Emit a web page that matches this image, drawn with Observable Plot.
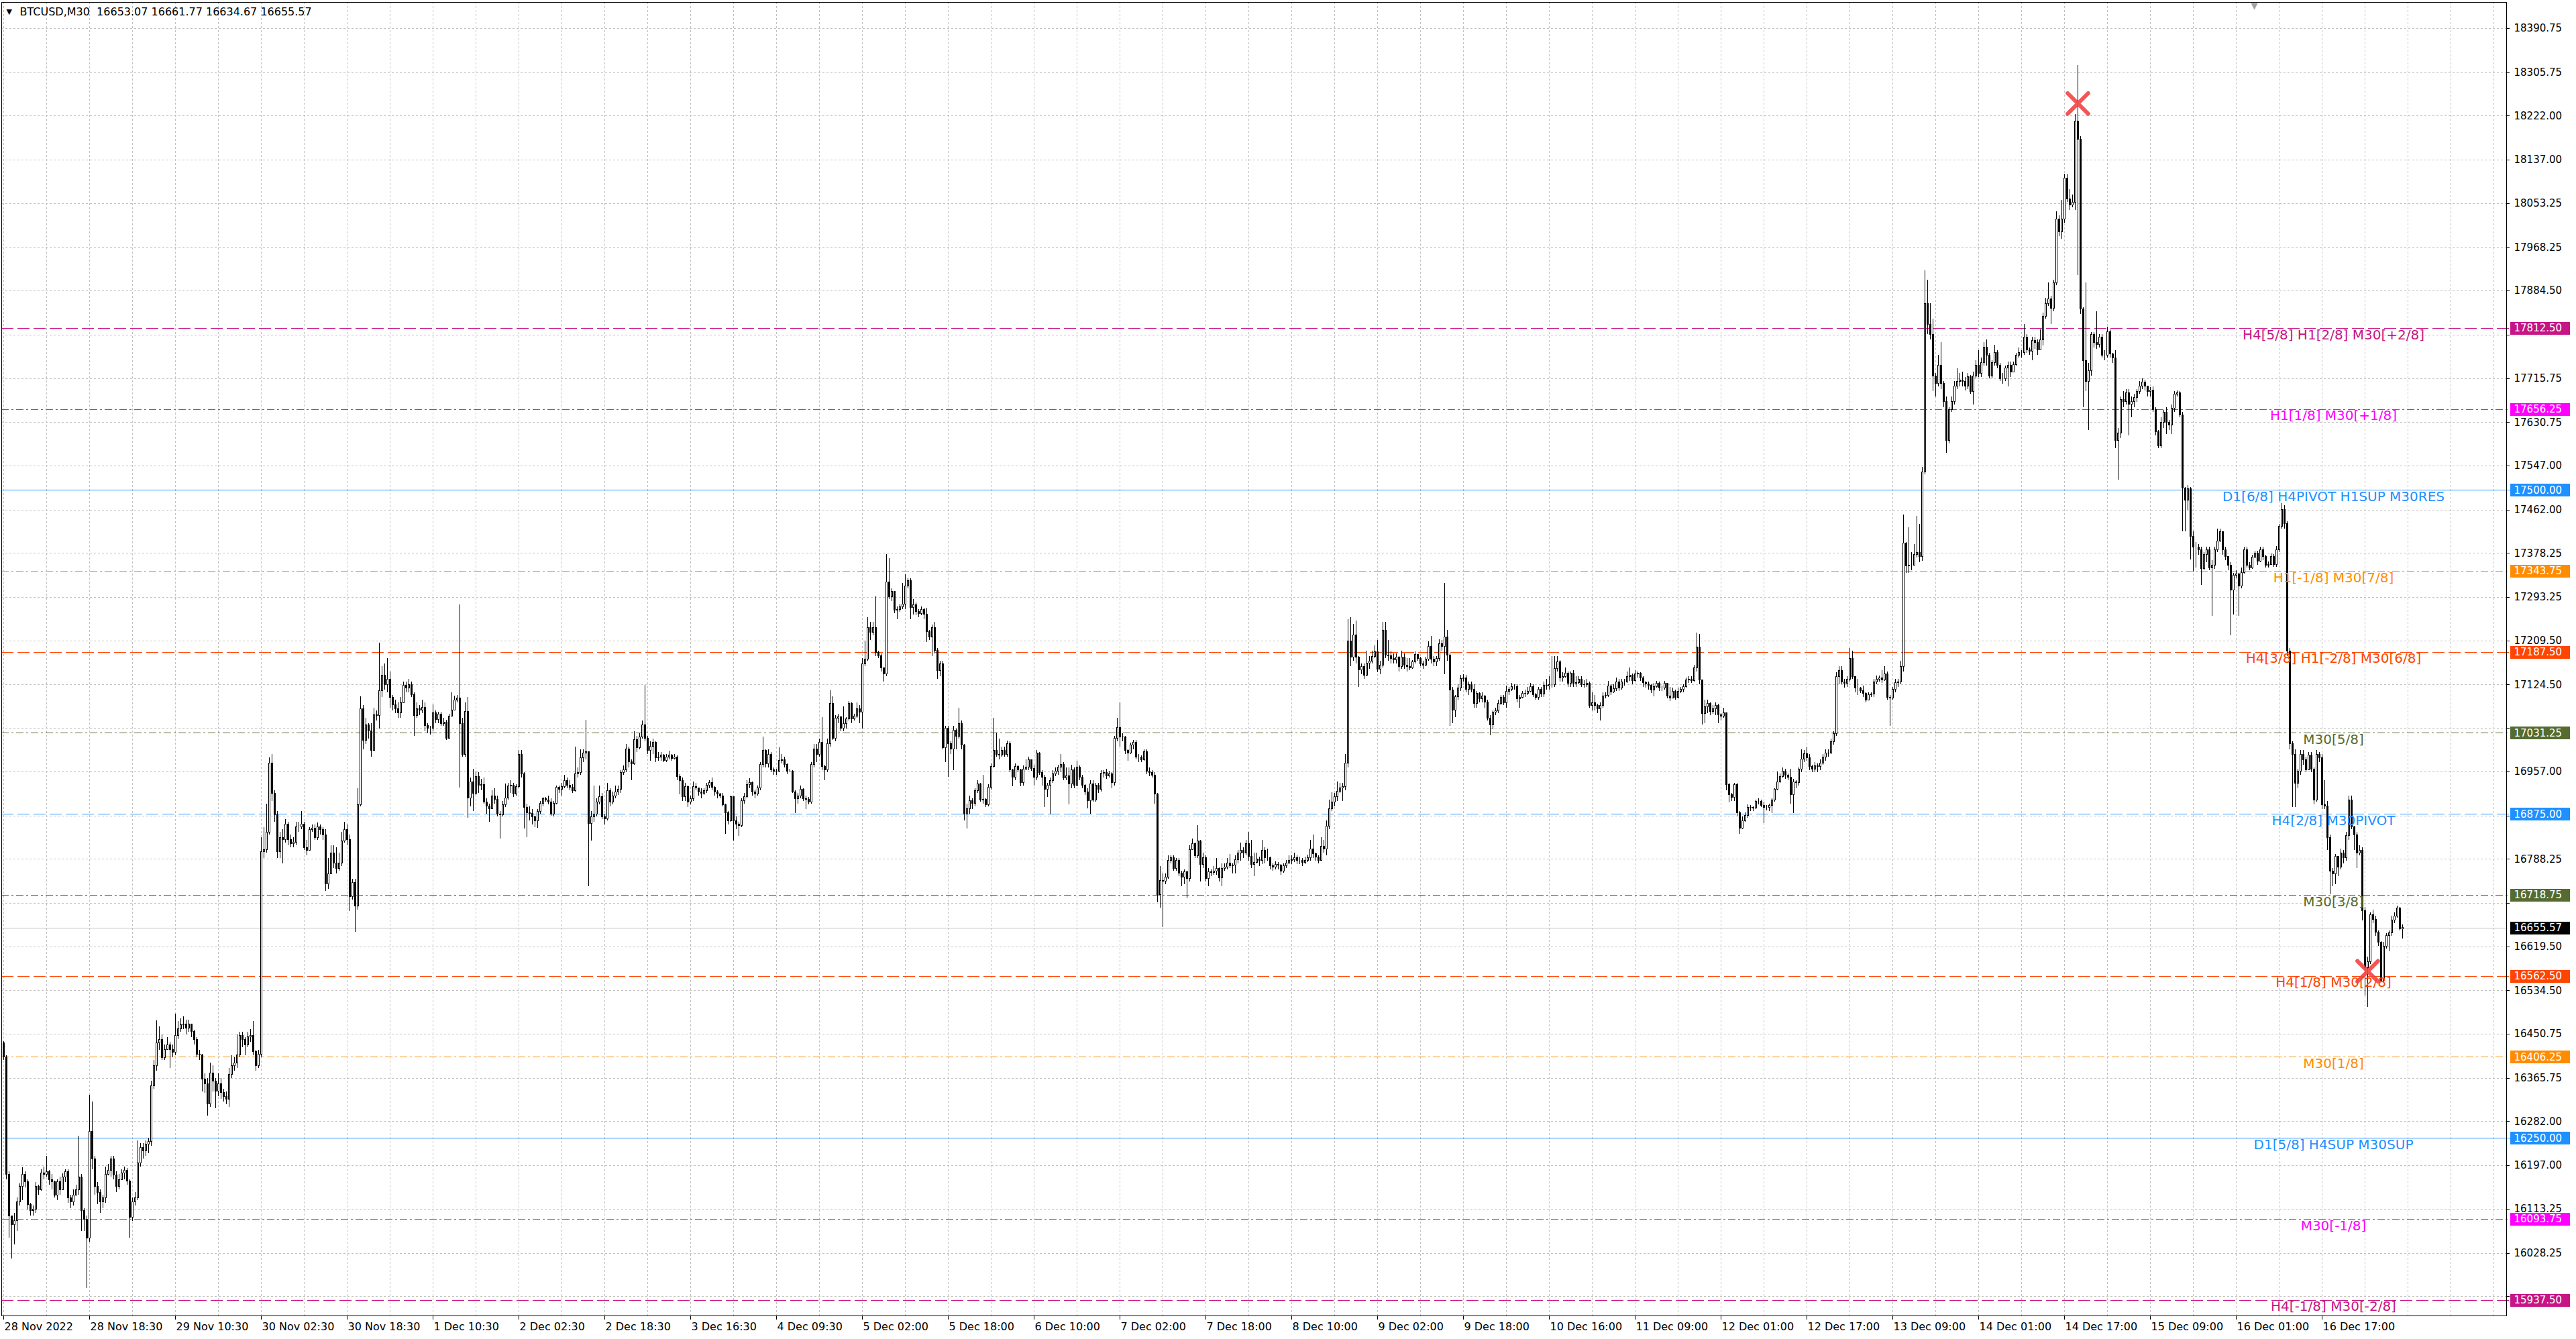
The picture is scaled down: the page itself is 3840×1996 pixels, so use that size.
<!DOCTYPE html>
<html>
<head>
<meta charset="utf-8">
<script src="https://cdn.jsdelivr.net/npm/d3@7"></script>
<script src="https://cdn.jsdelivr.net/npm/@observablehq/plot@0.6"></script>
<style>
  html, body { margin: 0; padding: 0; background: #ffffff; }
  #chart svg { display: block; }
</style>
</head>
<body>
<div id="chart"></div>
<script>
// ---------------- DATA (BTCUSD, M30) ----------------
const symbolName = "BTCUSD,M30";
const firstOpen = 16434;
const closes = [
16406,16180,16100,16083,16090,16127,16157,16180,16165,16122,16110,16112,16157,16150,16182,16180,
16185,16170,16165,16140,16165,16150,16175,16185,16135,16127,16140,16150,16175,16110,16093,16057,
16262,16210,16157,16145,16127,16135,16180,16188,16210,16178,16157,16170,16182,16188,16167,16097,
16127,16135,16202,16232,16225,16238,16243,16350,16390,16434,16440,16405,16420,16430,16420,16415,
16447,16460,16468,16470,16462,16470,16455,16440,16412,16410,16363,16355,16315,16375,16360,16340,
16355,16337,16330,16325,16372,16390,16395,16410,16447,16440,16430,16445,16447,16417,16390,16412,
16802,16806,16840,16973,16915,16873,16802,16830,16825,16855,16825,16818,16820,16850,16850,16855,
16810,16805,16845,16848,16830,16850,16845,16835,16740,16760,16800,16780,16770,16780,16823,16845,
16825,16715,16743,16697,16893,17078,17017,17047,17035,16998,17066,17065,17113,17143,17125,17135,
17100,17085,17078,17070,17090,17123,17118,17125,17105,17065,17078,17075,17080,17045,17040,17040,
17070,17057,17068,17050,17052,17021,17063,17075,17095,17098,17050,16990,17073,16906,16937,16915,
16947,16930,16932,16898,16890,16885,16910,16903,16875,16873,16893,16906,16929,16930,16913,16928,
16990,16952,16888,16877,16876,16870,16862,16880,16895,16904,16902,16898,16875,16896,16926,16922,
16928,16940,16930,16926,16920,16952,16955,16983,16993,16995,16857,16870,16875,16898,16908,16870,
16866,16920,16898,16910,16918,16922,16955,16960,17000,16975,16972,17018,17003,17024,17047,17021,
16998,17005,17013,16983,16985,16988,16978,16985,16988,16982,16985,16947,16940,16908,16928,16898,
16905,16928,16925,16918,16915,16920,16930,16935,16926,16918,16913,16910,16893,16877,16862,16908,
16862,16855,16853,16900,16908,16931,16935,16918,16913,16925,16970,16998,16972,16990,16960,16958,
16957,16978,16980,16970,16958,16958,16918,16905,16910,16923,16905,16903,16898,16970,17000,16990,
17013,16967,16960,17011,17088,17021,17060,17062,17040,17050,17058,17088,17058,17063,17078,17072,
17165,17173,17235,17225,17235,17187,17180,17157,17145,17322,17294,17304,17268,17270,17275,17280,
17315,17325,17273,17278,17265,17262,17270,17260,17227,17216,17234,17191,17152,17165,17003,17040,
17010,17000,17037,17025,17050,17008,16875,16885,16900,16895,16920,16933,16902,16903,16893,16926,
16967,16998,16990,16988,16998,16990,17010,16960,16946,16967,16960,16935,16962,16965,16980,16963,
16946,16992,16955,16946,16923,16930,16940,16952,16957,16965,16970,16945,16948,16933,16960,16930,
16965,16946,16930,16918,16900,16933,16902,16930,16922,16953,16955,16948,16952,16935,17021,17042,
17024,17023,16998,16992,17008,17013,16985,16985,16980,16995,16957,16955,16950,16913,16720,16746,
16745,16753,16785,16790,16770,16786,16761,16753,16763,16750,16806,16818,16795,16823,16778,16790,
16750,16763,16762,16765,16770,16752,16770,16773,16780,16775,16776,16787,16800,16805,16800,16818,
16793,16778,16782,16788,16785,16805,16790,16790,16775,16773,16778,16776,16765,16775,16780,16785,
16787,16790,16785,16785,16782,16785,16790,16808,16798,16792,16786,16813,16808,16852,16885,16898,
16908,16919,16925,16928,16973,17209,17177,17220,17177,17153,17160,17142,17166,17170,17179,17188,
17154,17162,17229,17182,17180,17175,17172,17178,17160,17178,17162,17160,17157,17168,17183,17175,
17165,17162,17173,17198,17173,17168,17175,17203,17198,17216,17181,17114,17075,17101,17118,17136,
17138,17116,17125,17116,17088,17107,17097,17102,17091,17060,17047,17071,17074,17088,17100,17090,
17112,17115,17120,17120,17097,17100,17107,17108,17112,17120,17105,17100,17115,17106,17123,17122,
17125,17125,17155,17168,17138,17140,17146,17127,17146,17127,17128,17135,17125,17124,17127,17084,
17090,17084,17078,17084,17102,17104,17122,17110,17117,17130,17118,17130,17130,17140,17142,17132,
17145,17146,17137,17128,17126,17123,17114,17121,17127,17118,17118,17127,17103,17098,17112,17100,
17111,17115,17120,17134,17135,17132,17157,17197,17134,17069,17082,17088,17073,17078,17084,17066,
17064,17070,16932,16912,16907,16931,16877,16847,16862,16872,16887,16888,16886,16899,16899,16892,
16888,16888,16891,16902,16922,16937,16947,16958,16950,16946,16912,16937,16935,16961,16981,16991,
16984,16966,16961,16968,16966,16973,16985,16992,16993,17015,17030,17140,17152,17130,17127,17135,
17175,17140,17118,17118,17113,17108,17095,17105,17106,17130,17135,17138,17133,17145,17100,17098,
17116,17128,17130,17160,17398,17354,17355,17355,17375,17380,17372,17535,17860,17820,17800,17720,
17705,17740,17705,17671,17596,17655,17670,17700,17710,17712,17710,17700,17718,17690,17720,17740,
17725,17745,17775,17760,17720,17745,17765,17740,17715,17715,17735,17740,17728,17742,17760,17765,
17765,17795,17770,17768,17788,17785,17770,17790,17835,17860,17869,17850,17900,18023,17998,18023,
18102,18062,18050,18055,18211,18177,17849,17750,17710,17730,17800,17785,17780,17795,17760,17760,
17805,17763,17755,17596,17610,17675,17670,17688,17665,17670,17678,17690,17700,17708,17700,17690,
17692,17655,17612,17585,17630,17650,17630,17625,17658,17685,17688,17645,17503,17480,17502,17410,
17390,17390,17385,17348,17375,17385,17350,17355,17385,17402,17420,17385,17372,17355,17307,17335,
17338,17315,17340,17385,17355,17350,17370,17378,17362,17385,17372,17355,17356,17372,17356,17385,
17430,17462,17435,17189,17011,16990,16934,16957,16990,16980,16960,16988,16962,16902,16990,16984,
16893,16890,16829,16765,16760,16793,16772,16800,16790,16833,16902,16850,16835,16800,16805,16688,
16578,16590,16680,16672,16647,16627,16554,16620,16640,16645,16670,16678,16693,16653.07,16655.57
];
const highs = [
16436,16410,16185,16100,16105,16135,16162,16193,16185,16170,16125,16120,16165,16160,16190,16195,
16215,16188,16180,16168,16170,16175,16182,16190,16190,16140,16150,16160,16254,16180,16115,16100,
16333,16320,16215,16165,16150,16140,16195,16200,16215,16215,16185,16180,16190,16195,16192,16170,
16135,16145,16245,16240,16240,16245,16250,16360,16400,16477,16465,16450,16430,16445,16435,16430,
16490,16475,16480,16485,16478,16478,16468,16458,16445,16420,16412,16375,16365,16395,16390,16365,
16375,16365,16345,16340,16385,16410,16405,16450,16455,16455,16445,16455,16460,16475,16420,16420,
16830,16850,16895,16984,16990,16920,16880,16840,16845,16865,16860,16835,16830,16860,16860,16880,
16860,16825,16850,16855,16855,16858,16855,16850,16845,16790,16815,16815,16810,16800,16840,16860,
16855,16835,16750,16750,16925,17102,17085,17060,17050,17050,17080,17075,17205,17160,17165,17175,
17150,17105,17095,17090,17100,17130,17130,17135,17130,17110,17090,17085,17095,17090,17050,17045,
17086,17075,17072,17072,17060,17056,17068,17110,17103,17105,17279,17060,17090,17101,16945,16962,
16957,16955,16942,16945,16905,16895,16920,16925,16910,16880,16900,16934,16935,16940,16935,16932,
16998,16998,16955,16895,16890,16885,16872,16885,16900,16908,16908,16910,16905,16900,16930,16930,
16935,16950,16945,16940,16932,17005,16965,17000,17000,17057,16995,16880,16930,16905,16930,16915,
16875,16935,16925,16918,16930,16930,16960,16968,17010,17005,16980,17035,17025,17030,17055,17124,
17025,17015,17020,17015,16995,16995,16990,16990,16997,16990,16990,16988,16952,16945,16935,16930,
16910,16938,16935,16925,16925,16925,16935,16940,16945,16928,16920,16915,16915,16895,16880,16910,
16908,16870,16860,16905,16915,16940,16944,16938,16922,16930,16975,17024,17000,17000,16995,16965,
16962,17003,16990,16985,16972,16962,16960,16920,16915,16930,16925,16910,16908,16975,17010,17010,
17020,17062,16970,17020,17114,17102,17066,17068,17058,17083,17062,17093,17090,17068,17090,17085,
17175,17209,17255,17245,17245,17294,17190,17185,17150,17376,17369,17310,17305,17275,17280,17320,
17337,17330,17330,17290,17283,17270,17275,17272,17272,17230,17240,17245,17195,17170,17170,17045,
17045,17015,17045,17040,17080,17055,17010,16895,16910,16905,16925,16940,16935,16950,16905,16932,
16972,17060,17032,17020,17005,17005,17016,17015,16962,16972,16970,16962,16968,16980,16985,16980,
16970,16998,16995,16960,16950,16935,16945,16960,16965,16970,16990,16975,16965,16965,16970,16965,
16978,16968,16950,16932,16925,16940,16940,16935,16935,16960,16960,16962,16958,16955,17025,17060,
17090,17030,17025,17000,17012,17018,17018,16990,16988,17000,17000,16965,16960,16955,16915,16775,
16760,16760,16795,16795,16795,16790,16790,16765,16768,16765,16815,16828,16820,16853,16825,16800,
16795,16770,16768,16775,16790,16772,16780,16780,16790,16798,16780,16795,16805,16820,16810,16825,
16840,16825,16800,16800,16792,16825,16810,16808,16792,16780,16783,16782,16778,16780,16786,16795,
16795,16800,16795,16792,16790,16792,16796,16825,16835,16800,16795,16830,16825,16863,16902,16917,
16915,16937,16935,16935,16990,17250,17255,17242,17248,17180,17165,17165,17190,17180,17190,17200,
17210,17170,17246,17246,17210,17190,17185,17185,17180,17190,17185,17175,17175,17172,17188,17182,
17178,17170,17178,17208,17218,17180,17180,17212,17210,17320,17230,17185,17120,17105,17125,17143,
17145,17143,17130,17130,17125,17112,17110,17110,17105,17095,17065,17075,17080,17095,17105,17105,
17123,17120,17128,17125,17125,17105,17112,17115,17120,17128,17125,17108,17120,17120,17130,17135,
17140,17180,17180,17180,17172,17148,17158,17150,17150,17152,17140,17140,17140,17133,17135,17130,
17110,17105,17088,17090,17110,17110,17132,17125,17125,17138,17135,17135,17135,17150,17158,17146,
17152,17150,17148,17140,17132,17130,17125,17128,17132,17130,17123,17132,17128,17120,17118,17115,
17118,17120,17125,17138,17140,17140,17162,17225,17222,17130,17095,17095,17090,17085,17090,17088,
17070,17080,17065,16935,16915,16935,16935,16880,16870,16878,16893,16892,16890,16902,16905,16902,
16898,16892,16895,16905,16925,16957,16953,16965,16962,16953,16962,16942,16940,16965,17000,16998,
17005,16990,16970,16975,16972,16980,16990,17000,17000,17020,17035,17148,17160,17160,17135,17140,
17195,17190,17140,17135,17120,17122,17110,17110,17110,17135,17142,17142,17152,17160,17150,17105,
17120,17135,17135,17170,17452,17400,17428,17380,17395,17450,17435,17545,17924,17905,17860,17830,
17725,17760,17785,17710,17680,17660,17680,17710,17735,17725,17728,17718,17725,17722,17728,17750,
17770,17755,17785,17790,17765,17750,17780,17770,17745,17725,17740,17748,17748,17748,17765,17775,
17770,17820,17800,17775,17795,17795,17790,17810,17842,17870,17900,17875,17905,18038,18030,18060,
18110,18110,18080,18070,18225,18320,18182,17852,17900,17745,17805,17805,17845,17800,17800,17770,
17815,17810,17765,17770,17620,17680,17690,17695,17695,17680,17685,17695,17710,17715,17712,17700,
17698,17700,17660,17615,17640,17655,17660,17635,17665,17690,17692,17690,17650,17505,17510,17505,
17420,17400,17395,17390,17380,17390,17390,17365,17390,17425,17425,17420,17390,17370,17360,17340,
17345,17340,17350,17390,17390,17360,17375,17382,17382,17390,17390,17375,17362,17378,17376,17392,
17435,17475,17470,17440,17195,17015,17000,16962,16998,16998,16985,16995,16995,16965,16998,16994,
16990,16940,16900,16835,16770,16798,16790,16808,16805,16840,16910,16910,16852,16840,16815,16810,
16695,16600,16685,16690,16678,16650,16630,16628,16645,16650,16678,16685,16698,16695,16661.77
];
const lows = [
16400,16170,16057,16017,16045,16070,16120,16130,16155,16112,16100,16100,16105,16140,16148,16170,
16175,16160,16150,16135,16130,16140,16160,16165,16125,16115,16120,16140,16140,16070,16070,15960,
16050,16190,16140,16122,16105,16115,16125,16178,16175,16170,16145,16150,16170,16170,16160,16057,
16090,16120,16130,16195,16210,16215,16220,16235,16345,16380,16420,16400,16400,16420,16385,16405,
16410,16440,16455,16460,16450,16455,16445,16430,16405,16400,16340,16337,16293,16310,16340,16307,
16330,16325,16320,16315,16310,16365,16380,16385,16405,16425,16410,16425,16435,16410,16380,16385,
16405,16790,16800,16835,16900,16860,16790,16790,16780,16820,16815,16810,16810,16815,16840,16845,
16805,16795,16815,16840,16825,16825,16835,16825,16727,16730,16760,16770,16760,16765,16775,16820,
16815,16688,16710,16648,16690,16890,17000,17010,17020,16985,17000,17055,17040,17100,17115,17110,
17080,17075,17070,17060,17060,17090,17110,17110,17100,17025,17060,17065,17070,17035,17030,17028,
17035,17050,17050,17045,17045,17018,17020,17063,17075,17090,16926,16985,16985,16867,16890,16880,
16912,16915,16920,16895,16875,16860,16885,16895,16870,16828,16870,16888,16902,16915,16908,16910,
16925,16945,16847,16830,16862,16854,16850,16848,16875,16890,16898,16893,16872,16870,16893,16915,
16910,16925,16925,16920,16915,16918,16945,16950,16975,16980,16736,16823,16860,16870,16893,16865,
16855,16862,16890,16893,16905,16912,16915,16950,16955,16965,16940,16970,16995,17000,17020,17015,
16990,16977,16990,16975,16978,16978,16975,16975,16980,16977,16980,16940,16913,16900,16900,16888,
16893,16900,16920,16910,16905,16912,16915,16925,16920,16910,16905,16905,16890,16836,16855,16860,
16823,16845,16833,16850,16895,16905,16925,16910,16905,16910,16920,16965,16965,16965,16955,16950,
16950,16955,16972,16965,16952,16955,16915,16877,16895,16905,16900,16885,16893,16895,16965,16975,
16985,16960,16940,16955,17005,17018,17015,17050,17035,17035,17040,17055,17050,17055,17060,17050,
17040,17160,17170,17210,17220,17180,17175,17150,17130,17140,17290,17285,17262,17250,17265,17270,
17270,17310,17250,17260,17258,17255,17258,17250,17207,17210,17180,17185,17136,17140,17000,16975,
16947,16990,16960,17000,17020,17000,16862,16847,16875,16885,16890,16915,16898,16895,16888,16890,
16922,16965,16985,16980,16985,16985,16985,16955,16928,16940,16955,16928,16930,16960,16960,16958,
16930,16940,16950,16930,16888,16908,16875,16935,16948,16950,16955,16940,16940,16893,16925,16925,
16928,16940,16925,16912,16886,16875,16898,16898,16915,16918,16945,16942,16945,16925,16930,17015,
17005,17015,16990,16978,16990,17000,16980,16975,16975,16978,16952,16948,16945,16895,16705,16694,
16656,16740,16750,16780,16765,16765,16755,16735,16740,16712,16745,16805,16790,16790,16745,16770,
16745,16735,16755,16758,16758,16745,16735,16765,16768,16770,16760,16760,16780,16785,16790,16795,
16785,16770,16755,16780,16775,16778,16780,16785,16768,16765,16768,16768,16758,16762,16770,16778,
16778,16782,16778,16778,16775,16778,16782,16785,16790,16785,16780,16790,16800,16795,16845,16880,
16890,16900,16915,16900,16920,16965,17160,17170,17165,17120,17145,17135,17140,17155,17165,17175,
17148,17145,17158,17175,17170,17165,17165,17165,17150,17155,17155,17150,17152,17155,17165,17170,
17160,17155,17160,17170,17165,17160,17160,17170,17190,17145,17170,17045,17050,17062,17095,17112,
17130,17110,17105,17110,17080,17080,17090,17090,17080,17055,17027,17038,17065,17070,17085,17085,
17080,17105,17112,17115,17090,17080,17098,17100,17105,17110,17100,17095,17095,17100,17100,17115,
17115,17118,17120,17150,17130,17130,17138,17120,17120,17120,17120,17125,17120,17118,17120,17080,
17075,17075,17070,17055,17080,17098,17100,17105,17108,17112,17112,17115,17122,17128,17132,17125,
17130,17138,17132,17120,17118,17115,17108,17102,17118,17112,17112,17115,17098,17093,17098,17095,
17098,17108,17110,17118,17128,17128,17130,17150,17125,17047,17050,17070,17065,17068,17065,17050,
17055,17060,16920,16897,16900,16900,16872,16837,16845,16860,16868,16880,16880,16885,16893,16888,
16857,16882,16880,16877,16898,16920,16935,16945,16942,16940,16895,16877,16925,16930,16955,16975,
16978,16960,16955,16955,16955,16960,16970,16978,16985,16990,17008,17025,17125,17125,17118,17120,
17130,17135,17110,17105,17108,17100,17090,17095,17100,17100,17125,17130,17128,17132,17095,17045,
17095,17110,17120,17125,17150,17340,17340,17345,17355,17370,17360,17363,17530,17800,17790,17690,
17680,17700,17695,17660,17571,17590,17650,17665,17695,17700,17700,17692,17695,17685,17665,17715,
17718,17718,17740,17740,17715,17715,17740,17735,17710,17705,17710,17700,17718,17728,17740,17755,
17755,17760,17765,17760,17750,17772,17760,17770,17778,17830,17855,17820,17845,17895,17990,17985,
18015,18055,18040,18045,18040,17914,17840,17660,17690,17615,17720,17775,17772,17775,17755,17750,
17755,17755,17745,17580,17520,17600,17660,17665,17605,17640,17660,17670,17685,17695,17692,17680,
17680,17650,17605,17580,17580,17620,17608,17615,17608,17650,17680,17640,17420,17420,17462,17366,
17343,17350,17375,17316,17345,17360,17345,17257,17348,17380,17400,17375,17365,17345,17220,17260,
17330,17257,17310,17338,17350,17345,17348,17368,17355,17360,17365,17350,17350,17355,17352,17352,
17380,17425,17425,17180,17000,16888,16888,16925,16950,16970,16955,16960,16955,16893,16898,16975,
16885,16885,16806,16720,16735,16740,16755,16768,16780,16785,16825,16845,16806,16770,16795,16670,
16524,16502,16585,16665,16640,16620,16550,16550,16615,16610,16640,16665,16675,16650,16634.67
];

// time axis labels, one every 32 bars (16 hours of M30 bars)
const timeLabels = ["28 Nov 2022","28 Nov 18:30","29 Nov 10:30","30 Nov 02:30","30 Nov 18:30","1 Dec 10:30",
  "2 Dec 02:30","2 Dec 18:30","3 Dec 16:30","4 Dec 09:30","5 Dec 02:00","5 Dec 18:00","6 Dec 10:00",
  "7 Dec 02:00","7 Dec 18:00","8 Dec 10:00","9 Dec 02:00","9 Dec 18:00","10 Dec 16:00","11 Dec 09:00",
  "12 Dec 01:00","12 Dec 17:00","13 Dec 09:00","14 Dec 01:00","14 Dec 17:00","15 Dec 09:00","16 Dec 01:00","16 Dec 17:00"];
const barsPerLabel = 32;
const barsPerGrid = 16;

// price axis ticks
const priceTicks = [18390.75,18305.75,18222.00,18137.00,18053.25,17968.25,17884.50,17799.50,17715.75,17630.75,
  17547.00,17462.00,17378.25,17293.25,17209.50,17124.50,17040.75,16957.00,16872.00,16788.25,16703.25,
  16619.50,16534.50,16450.75,16365.75,16282.00,16197.00,16113.25,16028.25,15944.50];

// Murrey-math style levels
const levelPrices = [17812.5,17656.25,17500,17343.75,17187.5,17031.25,16875,16718.75,16562.5,16406.25,16250,16093.75,15937.5];
const levelLabels = ["H4[5/8] H1[2/8] M30[+2/8]","H1[1/8] M30[+1/8]","D1[6/8] H4PIVOT H1SUP M30RES","H1[-1/8] M30[7/8]",
  "H4[3/8] H1[-2/8] M30[6/8]","M30[5/8]","H4[2/8] M30PIVOT","M30[3/8]","H4[1/8] M30[2/8]","M30[1/8]",
  "D1[5/8] H4SUP M30SUP","M30[-1/8]","H4[-1/8] M30[-2/8]"];
const levelColors = ["#C71585","#FF00FF","#1E90FF","#FF8C00","#FF4500","#556B2F","#1E90FF","#556B2F","#FF4500","#FF8C00","#1E90FF","#FF00FF","#C71585"];
const levelStyles = ["dash","dashdot","solid","dashdot","dash","dashdot","dash","dashdot","dash","dashdot","solid","dashdot","dash"];

// red cross markers (bar index, price)
const crossBars = [773, 881];
const crossPrices = [18246, 16572];
// chart-shift marker position (bar units)
const shiftBar = 838.75;

// ---------------- BUILD ----------------
const n = Math.min(closes.length, highs.length, lows.length);
const bars = [];
for (let i = 0; i < n; i++) {
  const open = i === 0 ? firstOpen : closes[i - 1];
  const close = closes[i];
  bars.push({
    i, open, close,
    high: Math.max(highs[i], open, close),
    low: Math.min(lows[i], open, close)
  });
}
const last = bars[bars.length - 1];
const headerText = `${symbolName}  ${last.open.toFixed(2)} ${last.high.toFixed(2)} ${last.low.toFixed(2)} ${last.close.toFixed(2)}`;

const levels = levelPrices.map((p, k) => ({price: p, label: levelLabels[k], color: levelColors[k], style: levelStyles[k]}));
const dashFor = s => s === "dash" ? "18,6" : s === "dashdot" ? "11,4,3,4" : null;
const boxes = levels.map(d => ({price: d.price, color: d.color}))
  .concat([{price: last.close, color: "#000000"}]);
// tick labels that the coloured price boxes would cover are not drawn
const visibleTicks = priceTicks.filter(t => boxes.every(b => Math.abs(b.price - t) >= 16));

const xMin = -0.75, xMax = 932.75;
const yMin = 15907.3, yMax = 18441.2;
const gridBars = d3.range(0, xMax, barsPerGrid);
const labelBars = timeLabels.map((t, k) => ({bar: k * barsPerLabel, text: t}));
const levelLabelBar = 868.25;
const boxX1 = 934.25, boxX2 = 956.5;

const font = "DejaVu Sans";
const crisp = "crispEdges";

const chart = Plot.plot({
  width: 3840,
  height: 1996,
  marginLeft: 2,
  marginRight: 104,
  marginTop: 3,
  marginBottom: 35,
  x: {domain: [xMin, xMax], axis: null},
  y: {domain: [yMin, yMax], axis: null},
  style: {background: "#ffffff", fontFamily: font, fontSize: "15px", color: "#000"},
  marks: [
    // grid
    Plot.ruleX(gridBars, {x: d => d, stroke: "#c0c0c0", strokeDasharray: "3,3", strokeWidth: 1, shapeRendering: crisp}),
    Plot.ruleY(priceTicks, {y: d => d, x1: xMin, x2: xMax, stroke: "#c0c0c0", strokeDasharray: "3,3", strokeWidth: 1, shapeRendering: crisp}),
    // level lines
    ...["dash", "dashdot", "solid"].map(s =>
      Plot.ruleY(levels.filter(d => d.style === s), {
        y: "price", x1: xMin, x2: boxX1, stroke: "color", strokeWidth: 1,
        strokeDasharray: dashFor(s), shapeRendering: crisp
      })),
    // current price line
    Plot.ruleY([last.close], {y: d => d, x1: xMin, x2: xMax, stroke: "#c0c0c0", strokeWidth: 1, shapeRendering: crisp}),
    // candles
    Plot.ruleX(bars, {x: "i", y1: "low", y2: "high", stroke: "#000", strokeWidth: 1, shapeRendering: crisp}),
    Plot.rect(bars, {
      x1: d => d.i - 0.25, x2: d => d.i + 0.25, y1: "open", y2: "close",
      fill: d => d.close >= d.open ? "#ffffff" : "#000000", stroke: "#000", strokeWidth: 1,
      shapeRendering: crisp
    }),
    // level labels
    Plot.text(levels, {
      x: d => levelLabelBar, y: "price", text: "label", fill: "color",
      fontSize: 20, textAnchor: "middle", lineAnchor: "top", dy: 2
    }),
    // red crosses
    Plot.dot(crossBars.map((b, k) => ({bar: b, price: crossPrices[k]})), {
      x: "bar", y: "price", symbol: "times", r: 14, stroke: "#f04545",
      strokeWidth: 6, strokeOpacity: 0.9, strokeLinecap: "round"
    }),
    // frame
    Plot.frame({stroke: "#000", strokeWidth: 1, shapeRendering: crisp}),
    // chart shift marker
    Plot.text(["\u25BC"], {x: d => shiftBar, frameAnchor: "top", lineAnchor: "top", dy: 0, fontSize: 13, fill: "#a0a0a0"}),
    // right price axis
    Plot.ruleY(priceTicks, {y: d => d, x1: xMax, x2: xMax + 1.25, stroke: "#000", shapeRendering: crisp}),
    Plot.text(visibleTicks, {
      y: d => d, text: d => d.toFixed(2), frameAnchor: "right", dx: 11,
      textAnchor: "start", fill: "#000", fontSize: 15
    }),
    Plot.ruleY(boxes, {y: "price", x1: boxX1, x2: boxX2, stroke: "color", strokeWidth: 19, shapeRendering: crisp}),
    Plot.text(boxes, {
      y: "price", text: d => d.price.toFixed(2), frameAnchor: "right", dx: 11,
      textAnchor: "start", fill: "#ffffff", fontSize: 15
    }),
    // time axis
    Plot.ruleX(labelBars, {x: "bar", y1: yMin, y2: yMin - 6 / 0.7727, stroke: "#000", shapeRendering: crisp}),
    Plot.text(labelBars, {
      x: "bar", text: "text", frameAnchor: "bottom", dy: 16, dx: 1,
      textAnchor: "start", lineAnchor: "middle", fill: "#000", fontSize: 16
    }),
    // header
    Plot.text(["\u25BC"], {frameAnchor: "top-left", dx: 7, dy: 14, textAnchor: "start", lineAnchor: "middle", fontSize: 11, fill: "#000"}),
    Plot.text([headerText], {frameAnchor: "top-left", dx: 27, dy: 14, textAnchor: "start", lineAnchor: "middle", fontSize: 16, fill: "#000"})
  ]
});
document.getElementById("chart").appendChild(chart);
</script>
</body>
</html>
